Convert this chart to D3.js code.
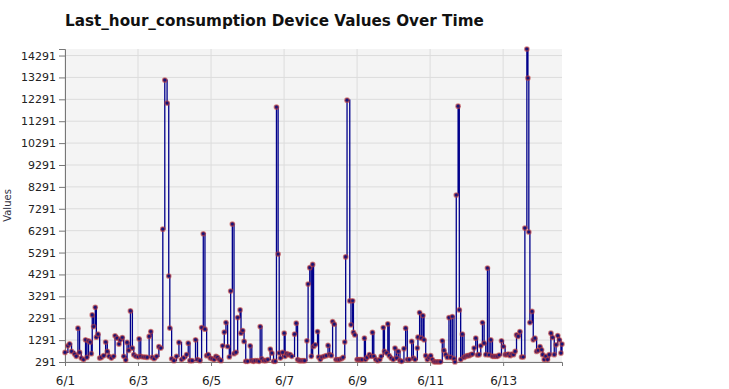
<meta charset="utf-8" />

<script src="https://d3js.org/d3.v7.min.js"></script>

<style>
  body {
    margin: 0;
    background: #fff;
  }
  svg text {
    font-family: "DejaVu Sans", Verdana, sans-serif;
  }
  .title {
    font-size: 15.2px;
    font-weight: bold;
    fill: #111;
  }
  .tick-label {
    font-size: 11px;
    fill: #222;
  }
  .grid line {
    stroke: #dcdcdc;
    stroke-width: 1;
  }
</style>

<svg width="729" height="389"></svg>

<script>
  // hours since 6/1 00:00 for each reading
  var hours = [
    0.0, 1.9, 3.0, 4.3, 6.3, 7.4, 8.5, 9.6, 10.7, 12.2,
    13.5, 14.4, 15.5, 16.6, 17.3, 17.9, 18.8, 19.9, 20.6, 21.7,
    22.8, 23.9, 25.4, 26.7, 27.8, 28.9, 30.5, 32.0, 32.9, 34.2,
    35.5, 36.4, 37.7, 38.6, 39.9, 40.8, 41.9, 43.0, 44.3, 45.2,
    46.5, 48.1, 48.7, 49.8, 51.4, 52.7, 54.0, 55.3, 56.4, 57.3,
    58.6, 60.2, 61.7, 63.0, 64.3, 65.6, 67.1, 68.2, 68.9, 70.1,
    71.6, 73.3, 74.9, 76.6, 78.1, 79.9, 81.0, 82.1, 83.6, 85.8,
    87.1, 88.7, 89.8, 90.9, 92.0, 93.1, 94.2, 95.5, 96.8, 98.1,
    99.2, 100.3, 101.4, 102.5, 103.6, 104.7, 105.8, 106.9, 108.0, 108.9,
    110.0, 111.1, 112.4, 113.5, 115.1, 115.7, 116.8, 117.7, 118.8, 120.1,
    121.7, 122.8, 123.9, 125.0, 126.5, 127.6, 128.3, 129.4, 130.7, 132.0,
    133.3, 134.9, 136.0, 137.1, 138.2, 139.0, 140.1, 140.8, 141.6, 143.0,
    144.1, 144.7, 145.8, 146.9, 148.0, 149.1, 150.9, 152.0, 152.9, 154.0,
    155.1, 156.4, 157.5, 159.0, 159.8, 160.9, 161.9, 162.8, 163.4, 164.5,
    166.0, 166.7, 167.8, 168.9, 170.4, 171.8, 172.9, 174.0, 175.1, 175.9,
    177.0, 178.1, 179.2, 180.3, 181.7, 182.8, 183.9, 184.5, 185.4, 187.2,
    188.0, 189.1, 189.6, 190.5, 192.0, 193.1, 194.2, 195.3, 196.8, 197.5,
    198.6, 200.1, 201.2, 202.1, 203.0, 204.3, 205.6, 207.0, 207.8, 209.2,
    210.0, 211.4, 212.2, 213.1, 214.4, 215.8, 216.9, 218.0, 219.1, 220.2,
    221.3, 222.8, 223.9, 225.0, 226.3, 227.9, 229.0, 230.1, 231.6, 232.0,
    233.1, 234.2, 235.3, 236.0, 237.1, 238.2, 239.3, 240.4, 241.5, 242.6,
    243.7, 244.8, 245.9, 246.9, 248.0, 249.1, 250.2, 251.3, 252.4, 253.5,
    254.6, 255.7, 256.3, 257.2, 258.4, 259.2, 260.1, 261.2, 262.3, 263.4,
    264.5, 265.6, 266.7, 267.8, 268.9, 270.0, 271.1, 272.2, 273.3, 274.4,
    275.5, 276.6, 277.7, 278.8, 279.9, 281.0, 282.1, 283.2, 284.3, 285.4,
    286.9, 288.2, 289.3, 290.4, 291.5, 292.6, 293.7, 294.8, 295.9, 296.8,
    297.9, 299.0, 300.1, 301.2, 302.3, 303.6, 304.3, 304.9, 305.6, 307.0,
    307.8, 308.9, 310.0, 311.1, 312.2, 313.3, 314.0, 315.0, 316.1, 317.2,
    318.3, 319.4, 320.5, 321.6, 322.8, 323.9, 325.0, 326.0, 326.7
  ];

  var consumption = [
    730, 1030, 1120, 775, 655, 550, 1836, 730, 470, 400,
    1306, 500, 1260, 1200, 670, 2440, 1910, 2790, 1427, 1563,
    470, 500, 580, 1200, 775, 550, 470, 550, 1490, 1380,
    1110, 1306, 1410, 550, 380, 1185, 820, 2625, 925, 625,
    550, 520, 1350, 550, 520, 520, 500, 1460, 1685, 500,
    440, 550, 990, 925, 6360, 13170, 12120, 4220, 1840, 440,
    350, 550, 1185, 400, 480, 625, 1150, 350, 350, 1306,
    400, 350, 1867, 6150, 1791, 580, 625, 470, 440, 400,
    550, 500, 400, 350, 1030, 1655, 2094, 1000, 520, 3533,
    6590, 670, 730, 2320, 2670, 1610, 1730, 1230, 320, 320,
    1030, 350, 320, 350, 350, 320, 1910, 440, 350, 350,
    400, 880, 700, 320, 320, 11935, 5220, 700, 470, 730,
    1610, 550, 670, 625, 625, 550, 1563, 2064, 400, 350,
    350, 350, 350, 1260, 3850, 4600, 550, 4750, 1000, 1080,
    1685, 520, 400, 520, 550, 580, 1050, 625, 580, 2140,
    2020, 400, 400, 400, 440, 500, 1200, 5090, 12250, 3080,
    1990, 3090, 1640, 1530, 400, 400, 400, 400, 1380, 400,
    500, 625, 550, 1640, 550, 400, 350, 400, 550, 1867,
    775, 700, 2030, 580, 470, 400, 925, 470, 775, 350,
    320, 900, 1836, 400, 400, 1230, 470, 400, 925, 1427,
    2550, 1380, 2410, 1306, 580, 400, 500, 580, 400, 300,
    300, 300, 300, 300, 1260, 820, 625, 500, 2320, 500,
    2370, 440, 291, 7920, 11980, 2670, 400, 1563, 500, 550,
    580, 580, 625, 655, 925, 1380, 610, 625, 1030, 2094,
    1150, 625, 4580, 610, 1306, 550, 550, 550, 550, 610,
    1260, 1000, 625, 625, 655, 580, 655, 625, 775, 1530,
    1460, 1685, 520, 520, 6410, 14590, 13260, 6230, 2094, 2600,
    1306, 1380, 775, 820, 1000, 850, 625, 400, 550, 400,
    625, 1610, 1410, 625, 1080, 1500, 1306, 700, 1110
  ];

  var yTickValues = [291, 1291, 2291, 3291, 4291, 5291, 6291, 7291, 8291, 9291, 10291, 11291, 12291, 13291, 14291];
  var xTickDays = [1, 3, 5, 7, 9, 11, 13];

  var startTime = new Date(2024, 5, 1);

  var data = hours.map(function (h, i) {
    return { time: d3.timeMinute.offset(startTime, Math.round(h * 60)), value: consumption[i] };
  });

  var svg = d3.select("svg"),
    margin = { top: 49, right: 167, bottom: 27, left: 65 },
    width = +svg.attr("width") - margin.left - margin.right,
    height = +svg.attr("height") - margin.top - margin.bottom;

  var x = d3
    .scaleTime()
    .domain(d3.extent(data, function (d) { return d.time; }))
    .range([0, width]);

  var y = d3
    .scaleLinear()
    .domain(d3.extent(data, function (d) { return d.value; }))
    .range([height, 0]);

  var xTicks = xTickDays.map(function (d) { return new Date(2024, 5, d); });

  svg.append("text")
    .attr("class", "title")
    .attr("x", margin.left)
    .attr("y", 26)
    .text("Last_hour_consumption Device Values Over Time");

  var g = svg.append("g").attr("transform", "translate(" + margin.left + "," + margin.top + ")");

  g.append("rect")
    .attr("width", width)
    .attr("height", height)
    .attr("fill", "#f4f4f4");

  // grid
  var grid = g.append("g").attr("class", "grid");
  grid.selectAll(".hgrid")
    .data(yTickValues)
    .enter()
    .append("line")
    .attr("x1", 0)
    .attr("x2", width)
    .attr("y1", function (d) { return y(d); })
    .attr("y2", function (d) { return y(d); });
  grid.selectAll(".vgrid")
    .data(xTicks)
    .enter()
    .append("line")
    .attr("y1", 0)
    .attr("y2", height)
    .attr("x1", function (d) { return x(d); })
    .attr("x2", function (d) { return x(d); });

  // axes
  var yAxis = g.append("g")
    .call(d3.axisLeft(y).tickValues(yTickValues).tickSize(6).tickPadding(3).tickFormat(d3.format("d")));
  var xAxis = g.append("g")
    .attr("transform", "translate(0," + height + ")")
    .call(d3.axisBottom(x).tickValues(xTicks).tickSize(4).tickPadding(10).tickFormat(d3.timeFormat("%-m/%-d")));

  [yAxis, xAxis].forEach(function (a) {
    a.select(".domain").attr("stroke", "#777");
    a.selectAll(".tick line").attr("stroke", "#777");
    a.selectAll(".tick text")
      .attr("class", "tick-label")
      .attr("font-family", null)
      .attr("font-size", null);
  });
  xAxis.selectAll(".tick text").style("font-size", "12px");

  svg.append("text")
    .attr("transform", "translate(11," + (margin.top + height / 2) + ") rotate(-90)")
    .attr("text-anchor", "middle")
    .style("font-size", "10px")
    .style("fill", "#334")
    .text("Values");

  var line = d3.line()
    .curve(d3.curveStepAfter)
    .x(function (d) { return x(d.time); })
    .y(function (d) { return y(d.value); });

  g.append("path")
    .datum(data)
    .attr("fill", "none")
    .attr("stroke", "#00008b")
    .attr("stroke-width", 1.3)
    .attr("d", line);

  g.selectAll(".pt")
    .data(data)
    .enter()
    .append("circle")
    .attr("class", "pt")
    .attr("cx", function (d) { return x(d.time); })
    .attr("cy", function (d) { return y(d.value); })
    .attr("r", 2.1)
    .attr("fill", "#14147a")
    .attr("stroke", "rgba(190, 60, 60, 0.6)")
    .attr("stroke-width", 1.5);
</script>
